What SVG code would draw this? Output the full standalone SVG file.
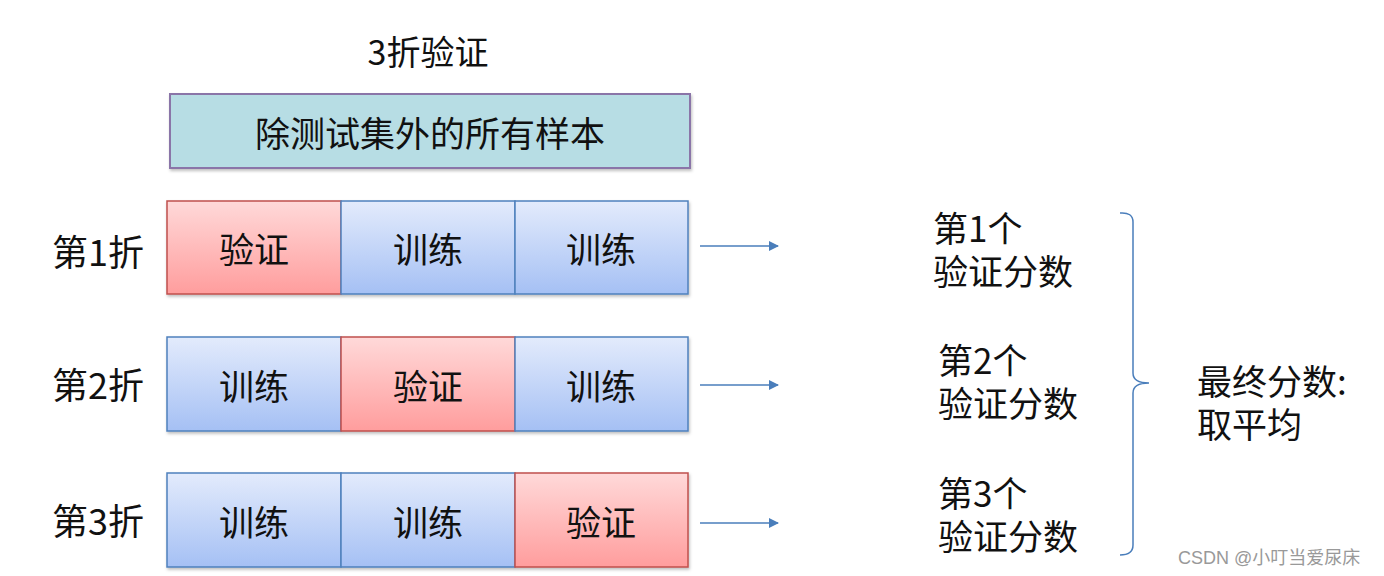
<svg xmlns="http://www.w3.org/2000/svg" width="1384" height="576" viewBox="0 0 1384 576">
<defs>
<linearGradient id="gRed" x1="0" y1="0" x2="0" y2="1"><stop offset="0" stop-color="#ffd9d9"/><stop offset="1" stop-color="#ff9d9d"/></linearGradient>
<linearGradient id="gBlue" x1="0" y1="0" x2="0" y2="1"><stop offset="0" stop-color="#e3ebfc"/><stop offset="1" stop-color="#a5c0f4"/></linearGradient>
<marker id="arr" viewBox="0 0 10 10" refX="9" refY="5" markerWidth="10" markerHeight="10" markerUnits="userSpaceOnUse" orient="auto"><path d="M0,0 L10,5 L0,10 z" fill="#4a7ebb"/></marker>
<filter id="sh" x="-5%" y="-10%" width="110%" height="130%"><feDropShadow dx="1" dy="2" stdDeviation="1.5" flood-color="#000" flood-opacity="0.25"/></filter>
</defs>
<style>
text{font-family:"Noto Sans CJK SC","Microsoft YaHei",sans-serif;fill:#111;}
.t{font-size:35px;}
.s{font-size:35px;}
.c{text-anchor:middle;dominant-baseline:central;}
.red{fill:url(#gRed);stroke:#c0504d;stroke-width:1.5;}
.blue{fill:url(#gBlue);stroke:#4f81bd;stroke-width:1.5;}
.conn{stroke:#4a7ebb;stroke-width:1.5;fill:none;}
</style>
<rect width="1384" height="576" fill="#fff"/>
<text class="c" x="428" y="50" font-size="34">3折验证</text>
<g id="all">
<rect x="170" y="94" width="520" height="74" fill="#b7dde4" stroke="#8a74a8" stroke-width="2" filter="url(#sh)"/>
<text class="t c" x="430" y="131">除测试集外的所有样本</text>
</g>
<g id="fold1">
<text x="52" y="266" font-size="36">第1折</text>
<g filter="url(#sh)">
<rect class="red" x="167" y="201" width="174" height="93"/>
<rect class="blue" x="341" y="201" width="174" height="93"/>
<rect class="blue" x="515" y="201" width="173" height="93"/>
</g>
<text class="t c" x="254" y="247">验证</text>
<text class="t c" x="428" y="247">训练</text>
<text class="t c" x="601" y="247">训练</text>
</g>
<g id="fold2">
<text x="52" y="399" font-size="36">第2折</text>
<g filter="url(#sh)">
<rect class="blue" x="167" y="337" width="174" height="94"/>
<rect class="red" x="341" y="337" width="174" height="94"/>
<rect class="blue" x="515" y="337" width="173" height="94"/>
</g>
<text class="t c" x="254" y="384">训练</text>
<text class="t c" x="428" y="384">验证</text>
<text class="t c" x="601" y="384">训练</text>
</g>
<g id="fold3">
<text x="52" y="535" font-size="36">第3折</text>
<g filter="url(#sh)">
<rect class="blue" x="167" y="473" width="174" height="94"/>
<rect class="blue" x="341" y="473" width="174" height="94"/>
<rect class="red" x="515" y="473" width="173" height="94"/>
</g>
<text class="t c" x="254" y="520">训练</text>
<text class="t c" x="428" y="520">训练</text>
<text class="t c" x="601" y="520">验证</text>
</g>
<g id="score1">
<text class="s" x="933" y="242">第1个</text>
<text class="s" x="933" y="285">验证分数</text>
</g>
<g id="score2">
<text class="s" x="938" y="374">第2个</text>
<text class="s" x="938" y="417">验证分数</text>
</g>
<g id="score3">
<text class="s" x="938" y="507">第3个</text>
<text class="s" x="938" y="550">验证分数</text>
</g>
<g id="final">
<text class="s" x="1197" y="395">最终分数:</text>
<text class="s" x="1197" y="438">取平均</text>
</g>
<g id="connectors">
<line class="conn" x1="700" y1="246" x2="778" y2="246" marker-end="url(#arr)"/>
<line class="conn" x1="700" y1="385" x2="778" y2="385" marker-end="url(#arr)"/>
<line class="conn" x1="700" y1="523" x2="778" y2="523" marker-end="url(#arr)"/>
<path class="conn" stroke-width="2" d="M1120,213 Q1133,212 1133,222 L1133,373 Q1133,383 1149,383 Q1133,383 1133,393 L1133,545 Q1133,555 1120,555"/>
</g>
<text x="1178" y="564" font-size="18" style="fill:#999;font-family:'Liberation Sans','Noto Sans CJK SC',sans-serif">CSDN @小叮当爱尿床</text>
</svg>
